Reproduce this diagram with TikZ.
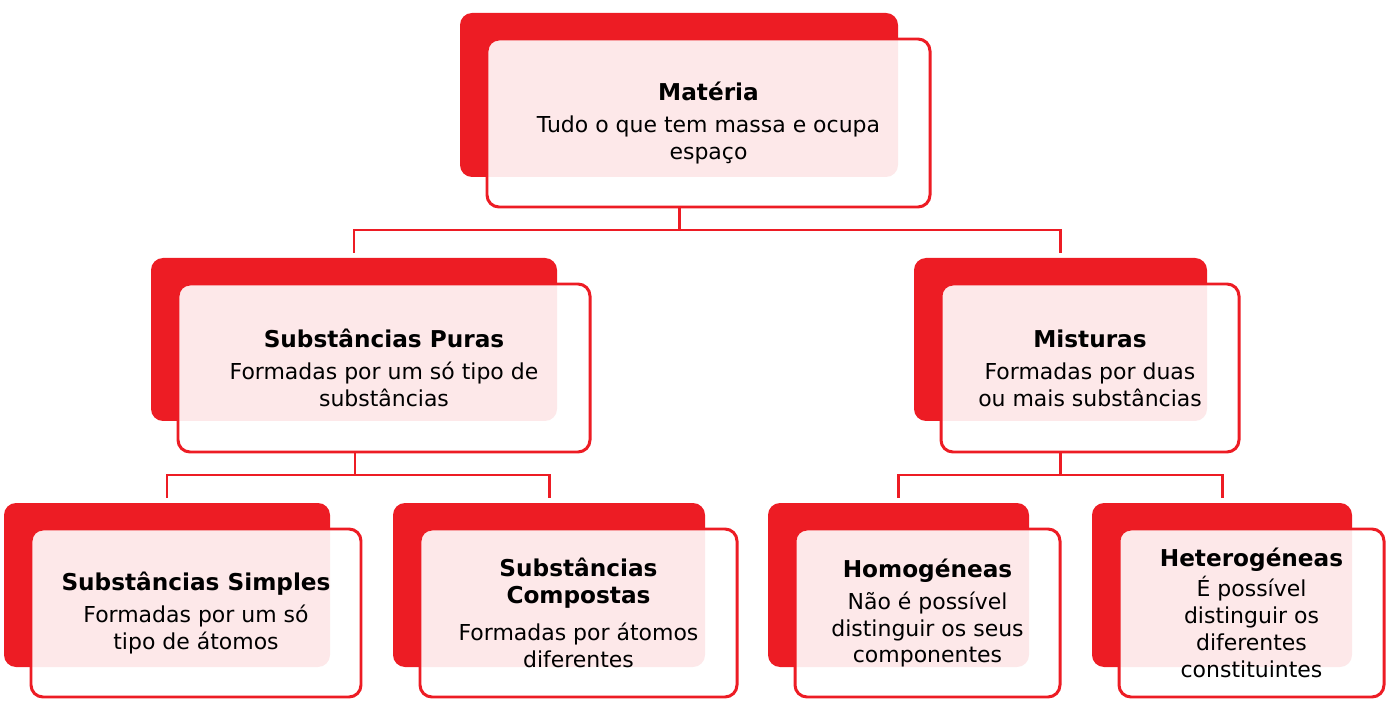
\documentclass[tikz,border=0pt]{standalone}
\usepackage{fontspec}
\setmainfont{DejaVu Sans}
\usepackage{xcolor}
\definecolor{box-red}{HTML}{ED1C24}
\usetikzlibrary{positioning}
\tikzset{back/.style 2 args = {fill=box-red, rounded corners=0.24cm, minimum width=#1*0.02cm, minimum height=#2*0.02cm, inner sep=0pt}}
\tikzset{front/.style 2 args = {draw=box-red, line width=1.7pt, fill=white, fill opacity=0.9, text opacity=1, rounded corners=0.24cm, minimum width=#1*0.02cm, minimum height=#2*0.02cm, align=center, inner sep=0pt, font=\fontsize{12.5}{15.3}\selectfont}}
\tikzset{arr/.style = {draw=box-red, line width=1.7pt, shorten >=5*0.02cm}}
\newcommand{\tfont}{\fontsize{13.2}{14.5}\selectfont\bfseries}
\newcommand{\ttl}[1]{{\tfont #1}\\[3pt]}

\begin{document}
\begin{tikzpicture}[x=0.02cm, y=-0.02cm]
\useasboundingbox (0,0) rectangle (1386,709);

% back boxes
\node[back={438}{164}] (mat-b) at (679,95) {};
\node[back={406}{163}] (pur-b) at (354,339.5) {};
\node[back={293}{163}] (mis-b) at (1060.5,339.5) {};
\node[back={326}{164}] (sim-b) at (167,585) {};
\node[back={312}{164}] (com-b) at (549,585) {};
\node[back={261}{164}] (hom-b) at (898.5,585) {};
\node[back={260}{164}] (het-b) at (1222,585) {};

% front boxes
\node[front={443}{168}] (mat) at (708.5,123) {\ttl{Matéria}Tudo o que tem massa e ocupa\\espaço};
\node[front={412}{168}] (pur) at (384,368) {\ttl{Substâncias Puras}Formadas por um só tipo de\\substâncias};
\node[front={298}{168}] (mis) at (1090,368) {\ttl{Misturas}Formadas por duas\\ou mais substâncias};
\node[front={330}{168}] (sim) at (196,613) {\ttl{Substâncias Simples}Formadas por um só\\tipo de átomos};
\node[front={317}{168}] (com) at (578.5,613) {{\tfont Substâncias}\\{\tfont Compostas}\\[6pt]Formadas por átomos\\diferentes};
\node[front={265}{168}] (hom) at (927.5,613) {\ttl{Homogéneas}Não é possível\\distinguir os seus\\componentes};
\node[front={265}{168}] (het) at (1251.5,613) {{\tfont Heterogéneas}\\[2pt]É possível\\distinguir os\\diferentes\\constituintes};

% connectors
\coordinate (j1) at (679,230);
\coordinate (j2) at (355,475);
\coordinate (j3) at (1060,475);
\draw[arr] (mat.south -| j1) -- (j1) -| (pur-b.north);
\draw[arr] (j1) -| (mis-b.north);
\draw[arr] (pur.south -| j2) -- (j2) -| (sim-b.north);
\draw[arr] (j2) -| (com-b.north);
\draw[arr] (mis.south -| j3) -- (j3) -| (hom-b.north);
\draw[arr] (j3) -| (het-b.north);

\end{tikzpicture}
\end{document}
